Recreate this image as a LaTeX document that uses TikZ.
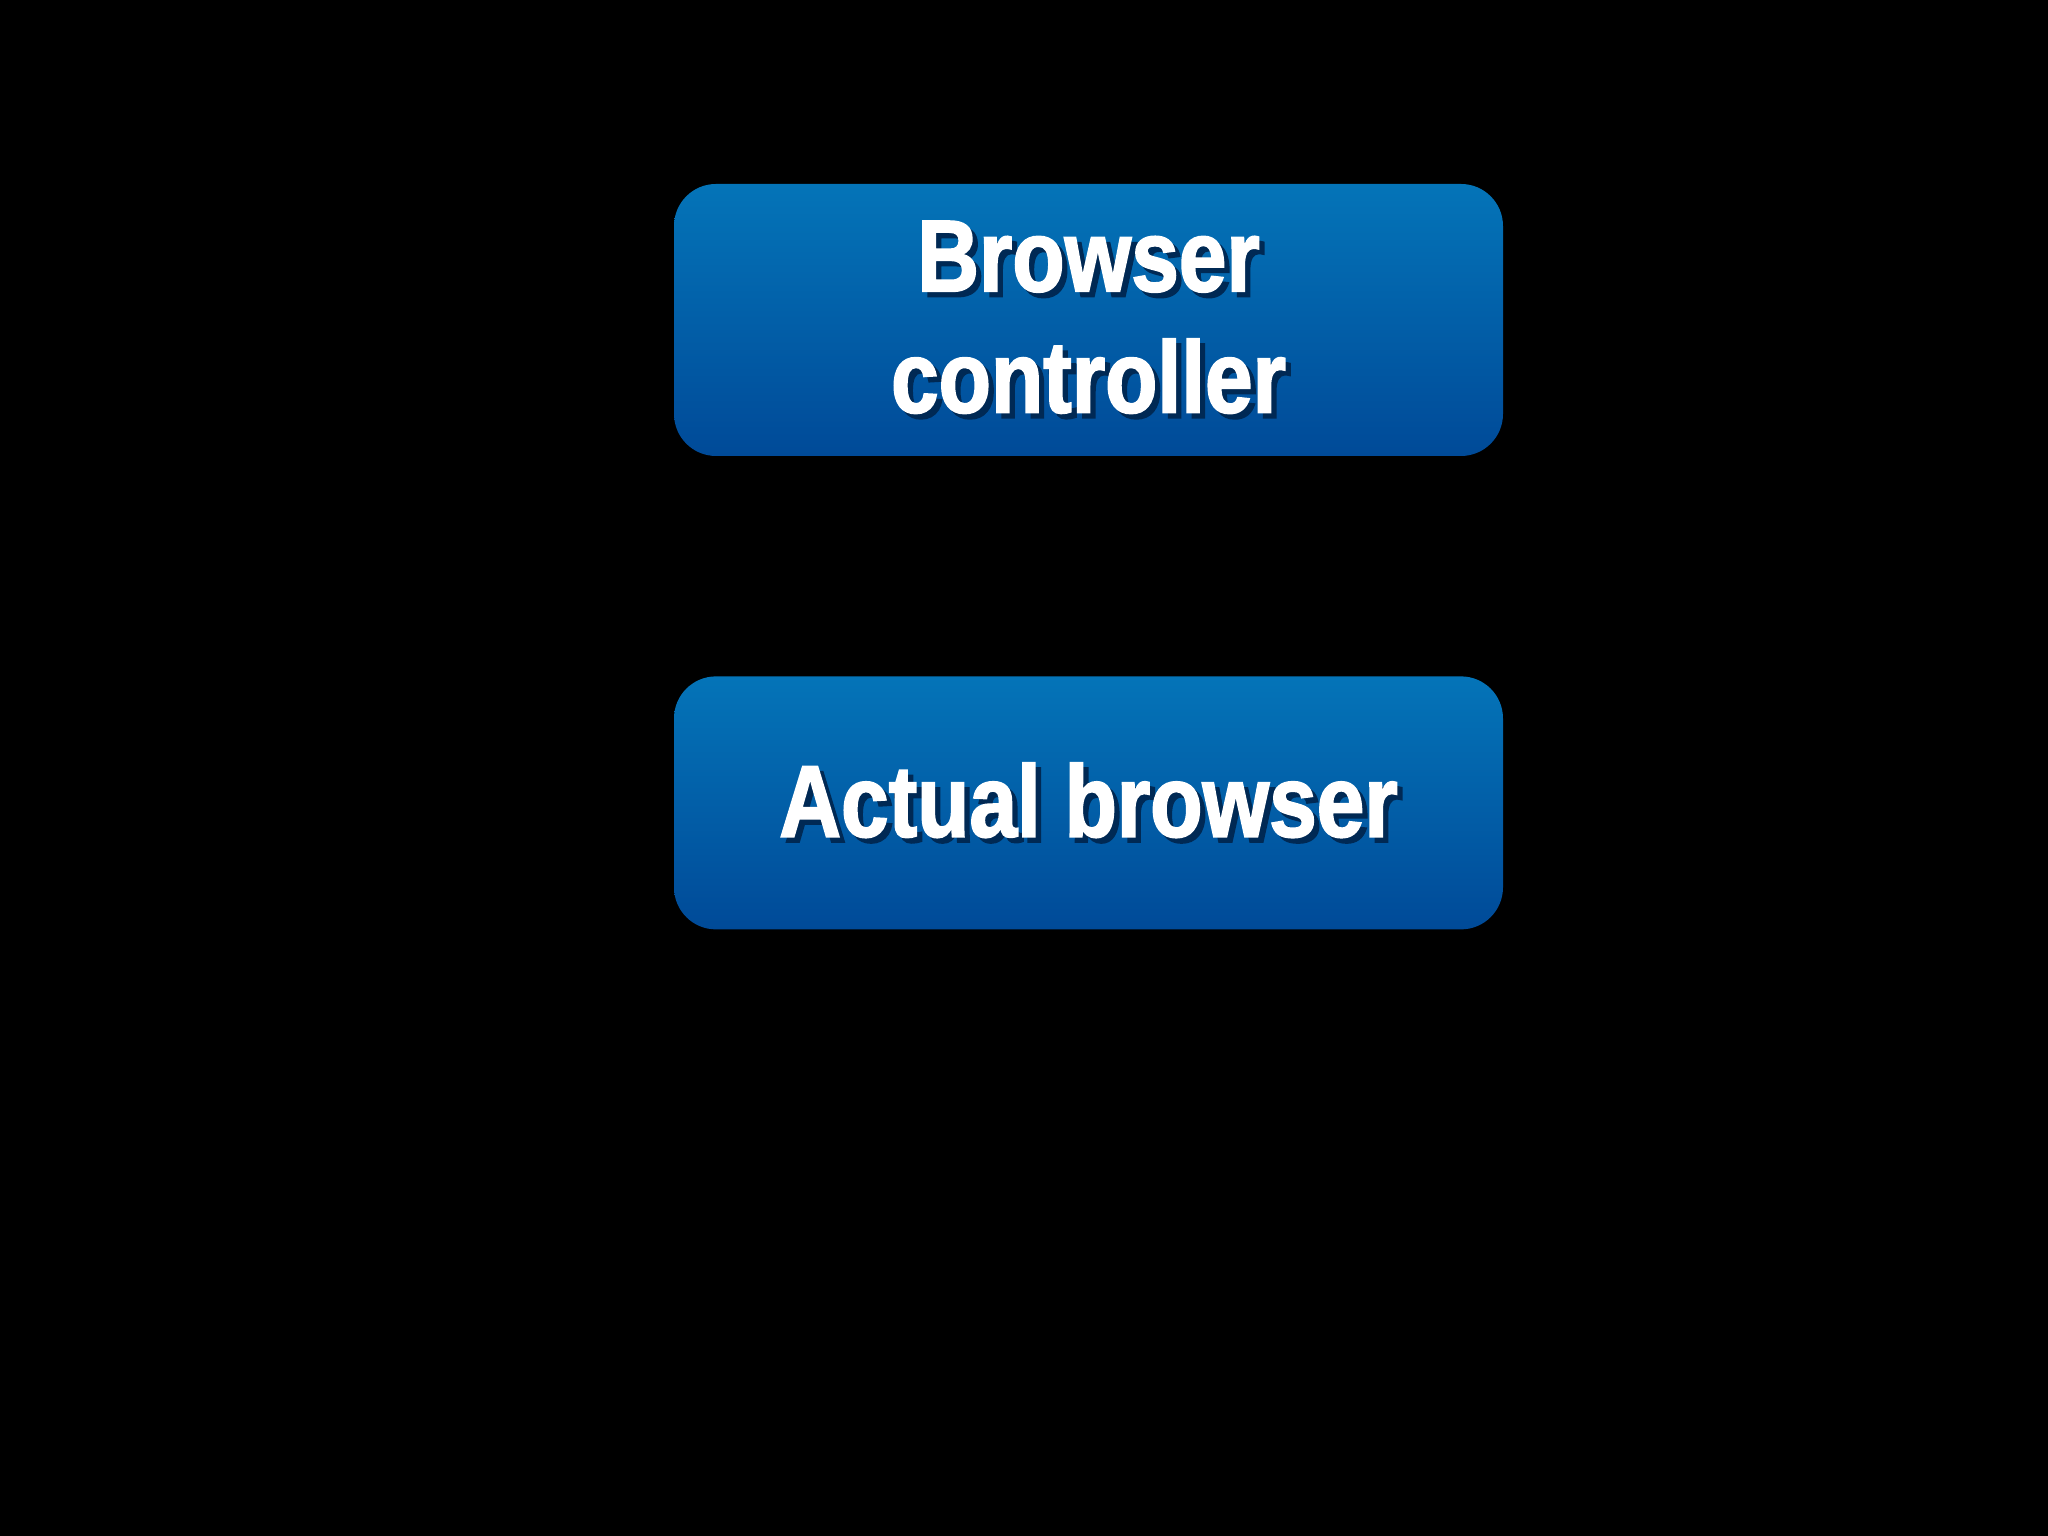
\documentclass[tikz,border=0pt]{standalone}
\usepackage{fontspec}
\setmainfont{Liberation Sans}[FakeStretch=0.84,FakeBold=1.8]
\usepackage{tikz}
\usetikzlibrary{positioning}

\definecolor{boxtop}{RGB}{4,116,184}
\definecolor{boxbot}{RGB}{0,74,152}
\newcommand{\shtext}[1]{\makebox[0pt][l]{\hspace{1.5pt}\raisebox{-1.5pt}{\color{black!45!boxbot}#1}}#1}

\begin{document}
\begin{tikzpicture}[node distance=2.19cm, auto,
    box/.style={rounded corners=0.42cm, top color=boxtop, bottom color=boxbot,
      minimum width=8.29cm, inner sep=0pt, align=center, text=white,
      font=\bfseries\fontsize{29}{34.5}\selectfont}]
    \fill [black] (0,0) rectangle (20.48,15.36);
    \node [box, minimum height=2.72cm] (ctrl) at (10.885,12.16) {\shtext{Browser}\\\shtext{controller}};
    \node [box, minimum height=2.53cm, below=of ctrl] (browser) {\shtext{Actual browser}};
  \end{tikzpicture}
\end{document}
